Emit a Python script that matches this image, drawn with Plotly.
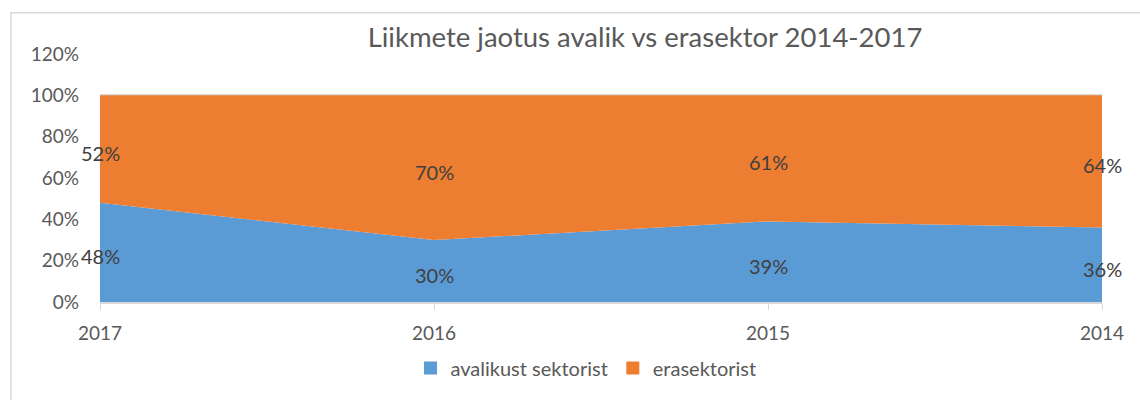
import plotly.graph_objects as go

years = ["2017", "2016", "2015", "2014"]
avalik = [0.48, 0.30, 0.39, 0.36]
erasektor = [0.52, 0.70, 0.61, 0.64]
y_ticks = [0, 0.2, 0.4, 0.6, 0.8, 1.0, 1.2]
y_tick_text = ["0%", "20%", "40%", "60%", "80%", "100%", "120%"]
title = "Liikmete jaotus avalik vs erasektor 2014-2017"
names = ["avalikust sektorist", "erasektorist"]
colors = ["#5B9BD5", "#ED7D31"]

FONT = "Lato"
W, H = 1140, 400
L, R, T, B = 100, 38, 54, 94
pw, ph = W - L - R, H - T - B

xs = list(range(len(years)))
fig = go.Figure()
for vals, name, col in [(avalik, names[0], colors[0]), (erasektor, names[1], colors[1])]:
    fig.add_trace(go.Scatter(x=xs, y=vals, stackgroup="one", mode="none",
                             fillcolor=col, name=name, showlegend=False,
                             hoverinfo="skip"))

# data labels at the middle of each band
mid_a = [a / 2 for a in avalik]
mid_e = [a + e / 2 for a, e in zip(avalik, erasektor)]
for mids, vals in [(mid_a, avalik), (mid_e, erasektor)]:
    for x, m, v in zip(xs, mids, vals):
        fig.add_annotation(x=x, y=m, xref="x", yref="y", text=f"{round(v*100)}%",
                           showarrow=False, yshift=-4,
                           font=dict(family=FONT, size=20, color="#404040"))

# legend entries
for name, col in zip(names, colors):
    fig.add_trace(go.Scatter(x=[None], y=[None], mode="markers", name=name,
                             marker=dict(symbol="square", size=13, color=col)))

def px_x(p):
    return (p - L) / pw

def px_y(p):
    return (H - B - p) / ph

fig.add_shape(type="rect", xref="paper", yref="paper",
              x0=px_x(11), x1=px_x(1160), y0=px_y(420), y1=px_y(12),
              line=dict(color="#d9d9d9", width=1.5), layer="below")

fig.update_layout(
    width=W, height=H,
    margin=dict(l=L, r=R, t=T, b=B),
    paper_bgcolor="white", plot_bgcolor="white",
    font=dict(family=FONT, color="#595959"),
    title=dict(text=title, x=px_x(645), xanchor="center", xref="paper",
               y=1 - 37 / H, yanchor="middle",
               font=dict(family=FONT, size=27.5, color="#595959")),
    showlegend=True,
    legend=dict(orientation="h", x=px_x(586), xanchor="center",
                y=px_y(373), yanchor="middle", traceorder="normal",
                font=dict(family=FONT, size=20, color="#595959"),
                itemwidth=30, bgcolor="rgba(0,0,0,0)"),
    xaxis=dict(range=[0, 3], tickvals=xs, ticktext=years,
               showgrid=False, zeroline=False,
               showline=True, linecolor="#d9d9d9", linewidth=1.5,
               ticks="outside", ticklen=6, tickcolor="#d9d9d9",
               ticklabelstandoff=7,
               tickfont=dict(family=FONT, size=19, color="#595959")),
    yaxis=dict(range=[0, 1.2], tickvals=y_ticks, ticktext=y_tick_text,
               showgrid=True, gridcolor="#d9d9d9", gridwidth=1.5,
               zeroline=False, showline=False, ticks="",
               ticklabelstandoff=20,
               tickfont=dict(family=FONT, size=19, color="#595959")),
)

fig.write_html("out.html", config={"displayModeBar": False},
               post_script="document.body.style.margin='0';")
